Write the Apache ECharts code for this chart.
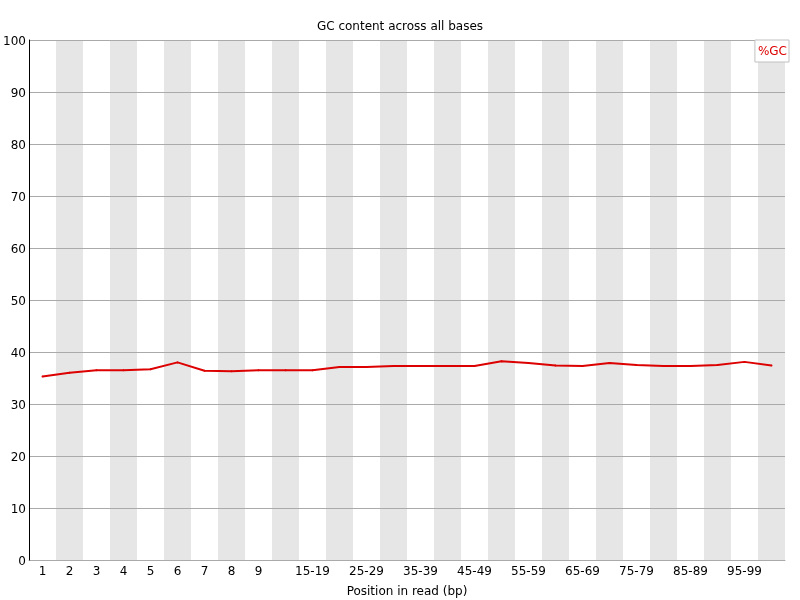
<!DOCTYPE html>
<html>
<head>
<meta charset="utf-8">
<script src="https://cdn.jsdelivr.net/npm/echarts@6/dist/echarts.min.js"></script>
<style>html,body{margin:0;padding:0;background:#fff}#c{width:800px;height:600px}</style>
</head>
<body>
<div id="c"></div>
<script>
var categories = ['1','2','3','4','5','6','7','8','9','10-14','15-19','20-24','25-29','30-34','35-39','40-44','45-49','50-54','55-59','60-64','65-69','70-74','75-79','80-84','85-89','90-94','95-99','100-101'];
var gcValues = [35.3,36.0,36.5,36.5,36.7,38.0,36.4,36.3,36.5,36.5,36.5,37.1,37.1,37.3,37.3,37.3,37.3,38.2,37.9,37.4,37.3,37.9,37.5,37.3,37.3,37.5,38.1,37.4];
var yTicks = [0,10,20,30,40,50,60,70,80,90,100];
var font = 'DejaVu Sans';
var chart = echarts.init(document.getElementById('c'));
chart.setOption({
  animation: false,
  backgroundColor: '#ffffff',
  title: {text: 'GC content across all bases', left: 'center', top: 16,
    textStyle: {fontFamily: font, fontSize: 12, fontWeight: 'normal', color: '#000'}},
  legend: {show: true, right: 11, top: 40, orient: 'vertical', data: ['%GC'],
    icon: 'none', itemWidth: 0, itemGap: 0, padding: [5, 2, 4, 2],
    backgroundColor: '#fff', borderColor: '#c0c0c0', borderWidth: 1, borderRadius: 0,
    textStyle: {fontFamily: font, fontSize: 12, color: '#dd0000', padding: [0,0,0,-4]}},
  grid: {left: 29, right: 15, top: 40, bottom: 40, containLabel: false, outerBoundsMode: 'none'},
  xAxis: {
    type: 'category', data: categories, boundaryGap: true, z: 0,
    name: 'Position in read (bp)', nameLocation: 'middle', nameGap: 26,
    nameTextStyle: {fontFamily: font, fontSize: 12, color: '#000'},
    axisLine: {show: true, lineStyle: {color: '#aaaaaa', width: 1}},
    axisTick: {show: false},
    axisLabel: {fontFamily: font, fontSize: 12, color: '#000', margin: 6,
      interval: function (i) { return i < 9 || (i - 9) % 2 === 1 && i < 27; }},
    splitLine: {show: false},
    splitArea: {show: true, interval: 0, areaStyle: {color: ['#ffffff', '#e6e6e6']}}
  },
  yAxis: {
    type: 'value', min: 0, max: 100, interval: 10, z: 1,
    axisLine: {show: true, lineStyle: {color: '#000', width: 1}},
    axisTick: {show: false},
    axisLabel: {fontFamily: font, fontSize: 12, color: '#000', margin: 3,
      formatter: function (v) { return yTicks.indexOf(v) >= 0 ? '{a|' + v + '}' : ''; },
      rich: {a: {fontFamily: font, fontSize: 12, color: '#000', padding: [4, 0, 0, 0]}}},
    splitLine: {show: true, lineStyle: {color: '#aaaaaa', width: 1}}
  },
  series: [{
    name: '%GC', type: 'line', data: gcValues, z: 3,
    showSymbol: true, symbol: 'circle', symbolSize: 2,
    lineStyle: {color: '#dd0000', width: 2},
    itemStyle: {color: '#dd0000'}
  }]
});
</script>
</body>
</html>
